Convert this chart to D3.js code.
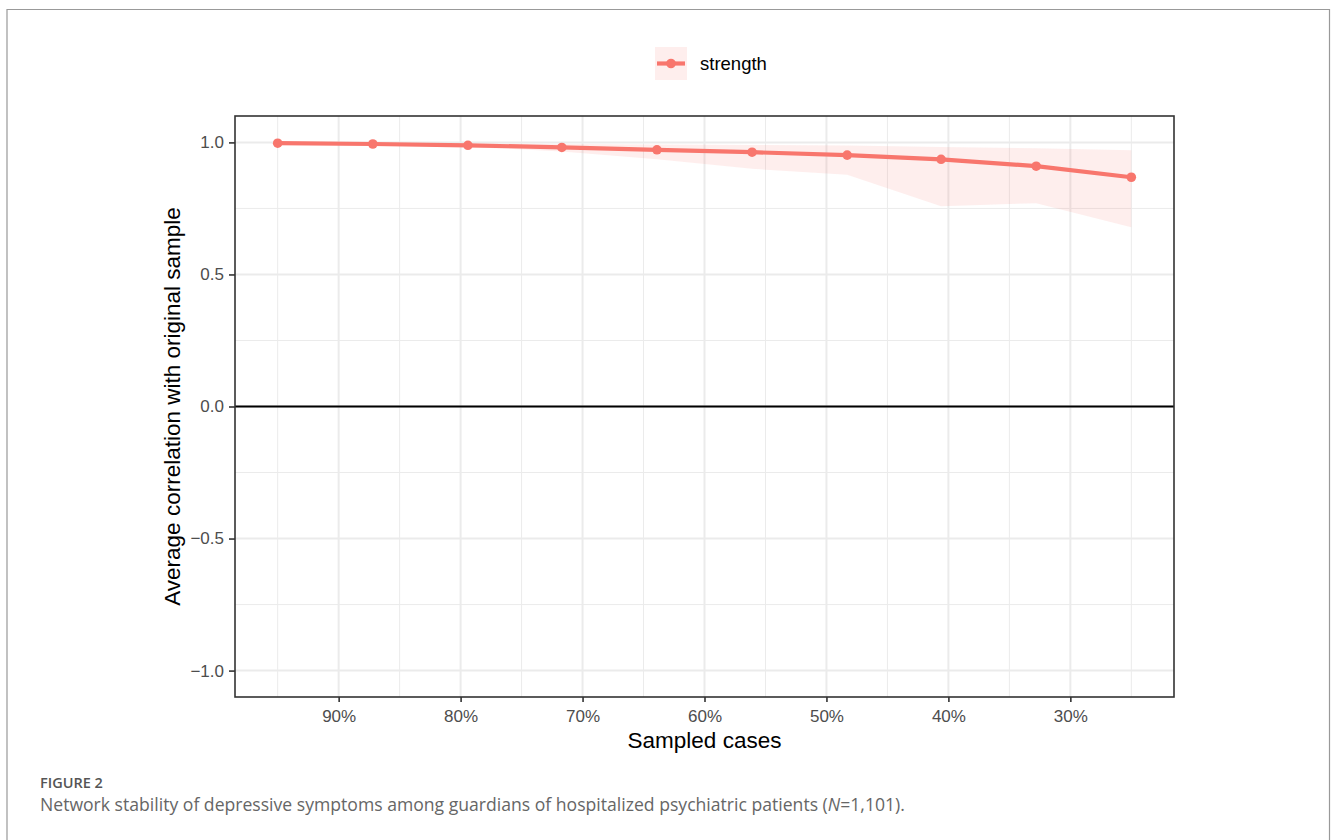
<!DOCTYPE html>
<html><head><meta charset="utf-8">
<script src="https://cdn.jsdelivr.net/npm/d3@7"></script>
<style>body{margin:0;background:#fff}svg{display:block}</style>
</head><body>
<svg id="c" width="1333" height="840"></svg>
<script>
const sampled = [0.95, 0.872, 0.794, 0.717, 0.639, 0.561, 0.483, 0.406, 0.328, 0.25];
const strength = [0.997, 0.994, 0.989, 0.981, 0.972, 0.963, 0.952, 0.936, 0.910, 0.868];
const upper = [0.999, 0.998, 0.996, 0.994, 0.992, 0.990, 0.988, 0.983, 0.978, 0.970];
const lower = [0.995, 0.990, 0.983, 0.966, 0.936, 0.900, 0.878, 0.758, 0.770, 0.679];
const xTicks = [0.9, 0.8, 0.7, 0.6, 0.5, 0.4, 0.3];
const xMinor = [0.95, 0.85, 0.75, 0.65, 0.55, 0.45, 0.35, 0.25];
const yTicks = [1.0, 0.5, 0.0, -0.5, -1.0];
const yMinor = [0.75, 0.25, -0.25, -0.75];
const seriesName = "strength";
const col = "#F8766D";

const svg = d3.select("#c");
const P = {l: 235, r: 1174, t: 116, b: 697};
const x = d3.scaleLinear().domain([0.985, 0.215]).range([P.l, P.r]);
const y = d3.scaleLinear().domain([-1.1, 1.1]).range([P.b, P.t]);
const FONT = "'Liberation Sans', Arial, sans-serif";

// outer frame
svg.append("path").attr("d", "M7,845 V9.5 H1329.5 V845").attr("fill","none").attr("stroke","#999").attr("stroke-width",1.2);

const g = svg.append("g");
// grid
g.selectAll(".ym").data(yMinor).join("line").attr("x1",P.l).attr("x2",P.r).attr("y1",d=>y(d)).attr("y2",d=>y(d)).attr("stroke","#ebebeb").attr("stroke-width",1);
g.selectAll(".xm").data(xMinor).join("line").attr("y1",P.t).attr("y2",P.b).attr("x1",d=>x(d)).attr("x2",d=>x(d)).attr("stroke","#ebebeb").attr("stroke-width",1);
g.selectAll(".yM").data(yTicks).join("line").attr("x1",P.l).attr("x2",P.r).attr("y1",d=>y(d)).attr("y2",d=>y(d)).attr("stroke","#ebebeb").attr("stroke-width",2);
g.selectAll(".xM").data(xTicks).join("line").attr("y1",P.t).attr("y2",P.b).attr("x1",d=>x(d)).attr("x2",d=>x(d)).attr("stroke","#ebebeb").attr("stroke-width",2);

const data = sampled.map((s,i)=>({s, v: strength[i], lo: lower[i], hi: upper[i]}));
// ribbon
g.append("path").datum(data).attr("fill", col).attr("fill-opacity", 0.12)
  .attr("d", d3.area().x(d=>x(d.s)).y0(d=>y(d.lo)).y1(d=>y(d.hi)));
// zero line
g.append("line").attr("x1",P.l).attr("x2",P.r).attr("y1",y(0)).attr("y2",y(0)).attr("stroke","#000").attr("stroke-width",2);
// line
g.append("path").datum(data).attr("fill","none").attr("stroke",col).attr("stroke-width",4.2).attr("stroke-linejoin","round")
  .attr("d", d3.line().x(d=>x(d.s)).y(d=>y(d.v)));
g.selectAll(".pt").data(data).join("circle").attr("cx",d=>x(d.s)).attr("cy",d=>y(d.v)).attr("r",4.8).attr("fill",col);

// panel border
svg.append("rect").attr("x",P.l).attr("y",P.t).attr("width",P.r-P.l).attr("height",P.b-P.t).attr("fill","none").attr("stroke","#333").attr("stroke-width",1.6);

// axes
const fmtPct = d3.format(".0%");
const xa = svg.append("g").attr("transform",`translate(0,${P.b})`)
  .call(d3.axisBottom(x).tickValues(xTicks).tickFormat(fmtPct).tickSize(5).tickPadding(5));
const ya = svg.append("g").attr("transform",`translate(${P.l},0)`)
  .call(d3.axisLeft(y).tickValues(yTicks).tickFormat(d=>d3.format(".1f")(d).replace("-","\u2212")).tickSize(6).tickPadding(5));
[xa, ya].forEach(a=>{
  a.select(".domain").remove();
  a.selectAll(".tick line").attr("stroke","#333").attr("stroke-width",1.6);
  a.selectAll(".tick text").attr("fill","#4d4d4d").style("font-family",FONT).style("font-size","17px");
});
xa.selectAll(".tick text").attr("dy","0.9em");

// axis titles
svg.append("text").attr("x",(P.l+P.r)/2).attr("y",748).attr("text-anchor","middle")
  .style("font-family",FONT).style("font-size","22.5px").attr("fill","#000").text("Sampled cases");
svg.append("text").attr("transform",`translate(180,${(P.t+P.b)/2}) rotate(-90)`).attr("text-anchor","middle")
  .style("font-family",FONT).style("font-size","22.5px").attr("fill","#000").text("Average correlation with original sample");

// legend
const lg = svg.append("g");
lg.append("rect").attr("x",655).attr("y",47).attr("width",32).attr("height",33).attr("fill",col).attr("fill-opacity",0.12);
lg.append("line").attr("x1",657).attr("x2",685).attr("y1",63.5).attr("y2",63.5).attr("stroke",col).attr("stroke-width",4.2);
lg.append("circle").attr("cx",671).attr("cy",63.5).attr("r",4.8).attr("fill",col);
lg.append("text").attr("x",700).attr("y",70).style("font-family",FONT).style("font-size","18.5px").attr("fill","#000").text(seriesName);

// caption
svg.append("text").attr("x",40).attr("y",787.5).style("font-family","'Open Sans', Lato, sans-serif").style("font-size","14.5px").style("font-weight","600").attr("fill","#555").text("FIGURE 2");
const cap = svg.append("text").attr("x",40).attr("y",811).style("font-family","'Open Sans', Lato, sans-serif").style("font-size","17.6px").attr("fill","#666");
cap.append("tspan").text("Network stability of depressive symptoms among guardians of hospitalized psychiatric patients (");
cap.append("tspan").style("font-style","italic").text("N");
cap.append("tspan").text("=1,101).");
</script>
</body></html>
